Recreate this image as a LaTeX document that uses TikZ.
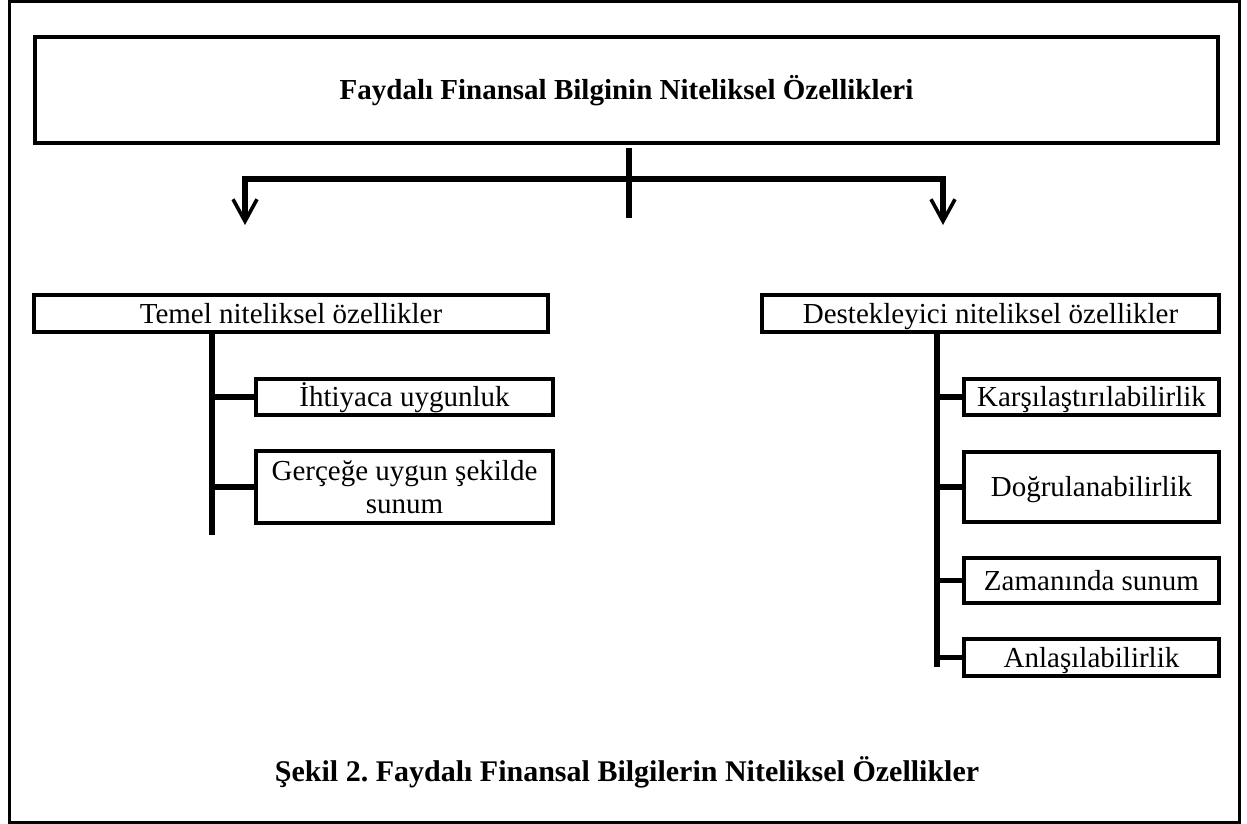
\documentclass[tikz,border=0pt]{standalone}
\usepackage{fontspec}
\setmainfont{Liberation Serif}
\usepackage{tikz}
\usetikzlibrary{arrows.meta}
\definecolor{lineCol}{RGB}{0,0,0}
\tikzset{myFrame/.style={line width=1.5pt,color=lineCol}}
\tikzset{myBox/.style={draw=lineCol, line width=1.8pt, inner sep=0pt, outer sep=0pt, anchor=north west, font=\fontsize{14.5}{16.5}\selectfont, align=center, text height=11pt, text depth=1.5pt}}
\tikzset{myTitle/.style={myBox, line width=2pt, font=\fontsize{14.5}{16.5}\selectfont\bfseries}}
\tikzset{myTrunk/.style={line width=3pt, color=lineCol}}
\tikzset{myStub/.style={line width=2.6pt, color=lineCol}}
\tikzset{myArrow/.style={line width=2.6pt, color=lineCol, {Straight Barb[length=11pt,width=12pt,line width=1.8pt]}-{Straight Barb[length=11pt,width=12pt,line width=1.8pt]}}}

\begin{document}
\frenchspacing
\begin{tikzpicture}[x=0.5pt, y=-0.5pt]

	\useasboundingbox (0,0) rectangle (1247,824);
	\draw[myFrame] (9,2) rectangle (1239,822);

	% title and the two groups
	\node[myTitle, minimum width=591.5pt, minimum height=53pt] (title) at (35,37) {Faydalı Finansal Bilginin Niteliksel Özellikleri};
	\node[myBox, minimum width=257pt, minimum height=18.5pt] (temel) at (34,295) {Temel niteliksel özellikler};
	\node[myBox, minimum width=228.5pt, minimum height=18.5pt] (destek) at (762,295) {Destekleyici niteliksel özellikler};

	\coordinate (mid) at (629,218);
	\coordinate (barL) at (245,179);
	\coordinate (barR) at (943,179);
	\coordinate (arrL) at (245,225);
	\coordinate (arrR) at (943,225);
	\draw[myTrunk] ([yshift=-2.5pt]title.south -| mid)--(mid);
	\draw[myArrow] (arrL)--(barL)--(barR)--(arrR);

	% left group
	\node[myBox, minimum width=148.5pt, minimum height=18pt] (ihtiyac) at (256,379) {İhtiyaca uygunluk};
	\node[myBox, minimum width=148.5pt, minimum height=36pt, text height={}, text depth={}] (gercege) at (256,451) {Gerçeğe uygun şekilde\\sunum};
	\coordinate (lEnd) at (212,535);
	\draw[myTrunk] (temel.south -| lEnd)--(lEnd);
	\foreach \n in {ihtiyac,gercege}{
		\draw[myStub] (\n.west -| lEnd)--(\n.west);
	}

	% right group
	\node[myBox, minimum width=127.5pt, minimum height=18pt] (karsi) at (964,379) {Karşılaştırılabilirlik};
	\node[myBox, minimum width=127.5pt, minimum height=35pt] (dogru) at (964,452) {Doğrulanabilirlik};
	\node[myBox, minimum width=127.5pt, minimum height=22.5pt] (zaman) at (964,558) {Zamanında sunum};
	\node[myBox, minimum width=127.5pt, minimum height=18.5pt] (anlasi) at (964,639) {Anlaşılabilirlik};
	\coordinate (rEnd) at (937,667);
	\draw[myTrunk] (destek.south -| rEnd)--(rEnd);
	\foreach \n in {karsi,dogru,zaman,anlasi}{
		\draw[myStub] (\n.west -| rEnd)--(\n.west);
	}

	\node[font=\fontsize{15}{17}\selectfont\bfseries] (caption) at (627,772) {Şekil 2. Faydalı Finansal Bilgilerin Niteliksel Özellikler};
\end{tikzpicture}
\end{document}
